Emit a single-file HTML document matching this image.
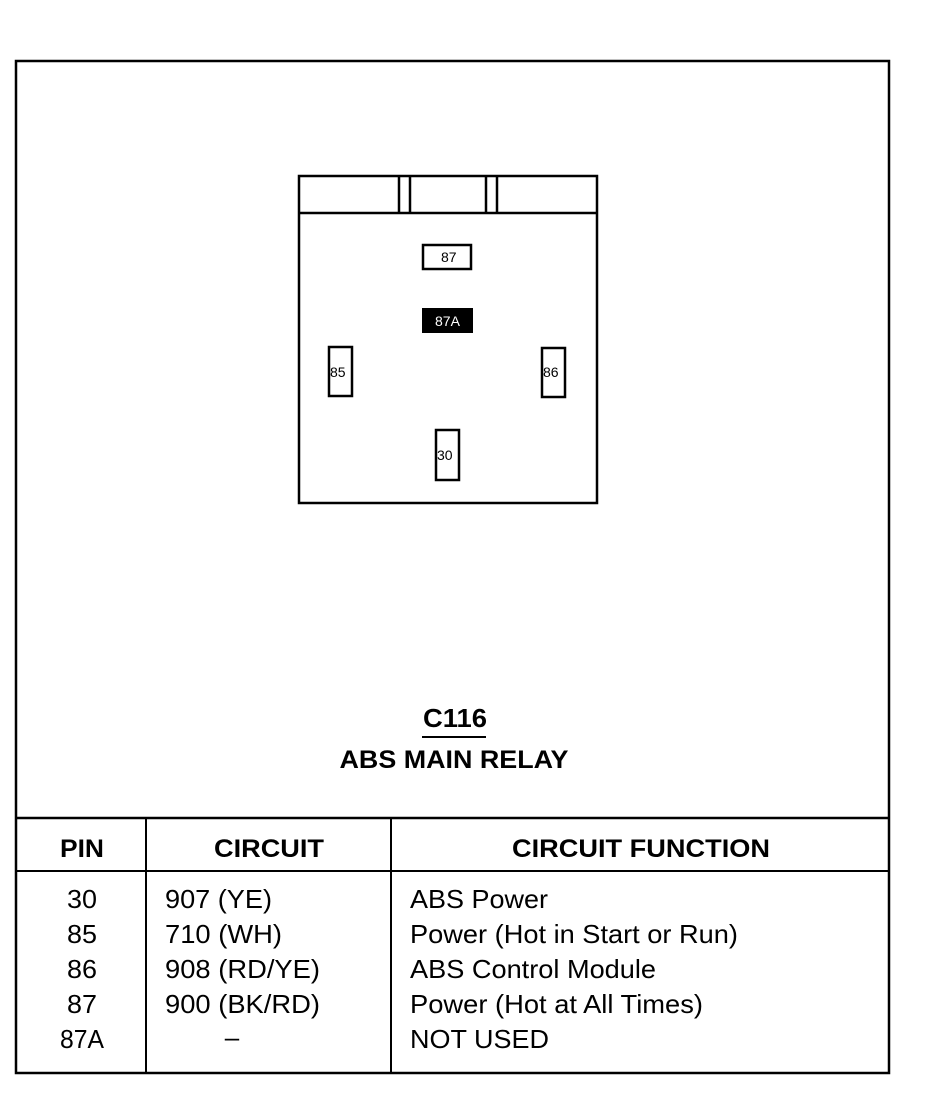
<!DOCTYPE html>
<html><head><meta charset="utf-8"><style>html,body{margin:0;padding:0;background:#fff}</style></head><body>
<svg width="940" height="1088" viewBox="0 0 940 1088" xmlns="http://www.w3.org/2000/svg" font-family="Liberation Sans, Arial, sans-serif">
<rect x="0" y="0" width="940" height="1088" fill="#fff"/>
<g fill="none" stroke="#000">
<rect x="16" y="61" width="873" height="1012" stroke-width="2.5"/>
<line x1="16" y1="818" x2="889" y2="818" stroke-width="2.5"/>
<line x1="16" y1="871" x2="889" y2="871" stroke-width="2"/>
<line x1="146" y1="818" x2="146" y2="1073" stroke-width="2"/>
<line x1="391" y1="818" x2="391" y2="1073" stroke-width="2"/>
<rect x="299" y="176" width="298" height="327" stroke-width="2.5"/>
<line x1="299" y1="213" x2="597" y2="213" stroke-width="2.5"/>
<line x1="399" y1="176" x2="399" y2="213" stroke-width="2.5"/>
<line x1="410" y1="176" x2="410" y2="213" stroke-width="2.5"/>
<line x1="486" y1="176" x2="486" y2="213" stroke-width="2.5"/>
<line x1="497" y1="176" x2="497" y2="213" stroke-width="2.5"/>
<rect x="423" y="245" width="48" height="24" stroke-width="2.5"/>
<rect x="329" y="347" width="23" height="49" stroke-width="2.5"/>
<rect x="542" y="348" width="23" height="49" stroke-width="2.5"/>
<rect x="436" y="430" width="23" height="50" stroke-width="2.5"/>
<line x1="422" y1="737" x2="486" y2="737" stroke-width="2"/>
</g>
<rect x="422" y="308" width="51" height="25" fill="#000"/>
<g font-size="14" fill="#000">
<text x="441" y="262">87</text>
<text x="435" y="326" fill="#fff">87A</text>
<text x="330" y="377">85</text>
<text x="543" y="377">86</text>
<text x="437" y="460">30</text>
</g>
<g font-weight="bold" fill="#000" text-anchor="middle">
<text x="455" y="727" font-size="26" textLength="64" lengthAdjust="spacingAndGlyphs">C116</text>
<text x="454" y="768" font-size="25" textLength="229" lengthAdjust="spacingAndGlyphs">ABS MAIN RELAY</text>
<text x="82" y="857" font-size="25" textLength="44" lengthAdjust="spacingAndGlyphs">PIN</text>
<text x="269" y="857" font-size="25" textLength="110" lengthAdjust="spacingAndGlyphs">CIRCUIT</text>
<text x="641" y="857" font-size="25" textLength="258" lengthAdjust="spacingAndGlyphs">CIRCUIT FUNCTION</text>
</g>
<g font-size="26" fill="#000">
<g text-anchor="middle">
<text x="82" y="908" textLength="30" lengthAdjust="spacingAndGlyphs">30</text>
<text x="82" y="943" textLength="30" lengthAdjust="spacingAndGlyphs">85</text>
<text x="82" y="978" textLength="30" lengthAdjust="spacingAndGlyphs">86</text>
<text x="82" y="1013" textLength="30" lengthAdjust="spacingAndGlyphs">87</text>
<text x="82" y="1048" textLength="44" lengthAdjust="spacingAndGlyphs">87A</text>
<text x="232" y="1046">–</text>
</g>
<text x="165" y="908" textLength="107" lengthAdjust="spacingAndGlyphs">907 (YE)</text>
<text x="165" y="943" textLength="117" lengthAdjust="spacingAndGlyphs">710 (WH)</text>
<text x="165" y="978" textLength="155" lengthAdjust="spacingAndGlyphs">908 (RD/YE)</text>
<text x="165" y="1013" textLength="155" lengthAdjust="spacingAndGlyphs">900 (BK/RD)</text>
<text x="410" y="908" textLength="138" lengthAdjust="spacingAndGlyphs">ABS Power</text>
<text x="410" y="943" textLength="328" lengthAdjust="spacingAndGlyphs">Power (Hot in Start or Run)</text>
<text x="410" y="978" textLength="246" lengthAdjust="spacingAndGlyphs">ABS Control Module</text>
<text x="410" y="1013" textLength="293" lengthAdjust="spacingAndGlyphs">Power (Hot at All Times)</text>
<text x="410" y="1048" textLength="139" lengthAdjust="spacingAndGlyphs">NOT USED</text>
</g>
</svg>
</body></html>
